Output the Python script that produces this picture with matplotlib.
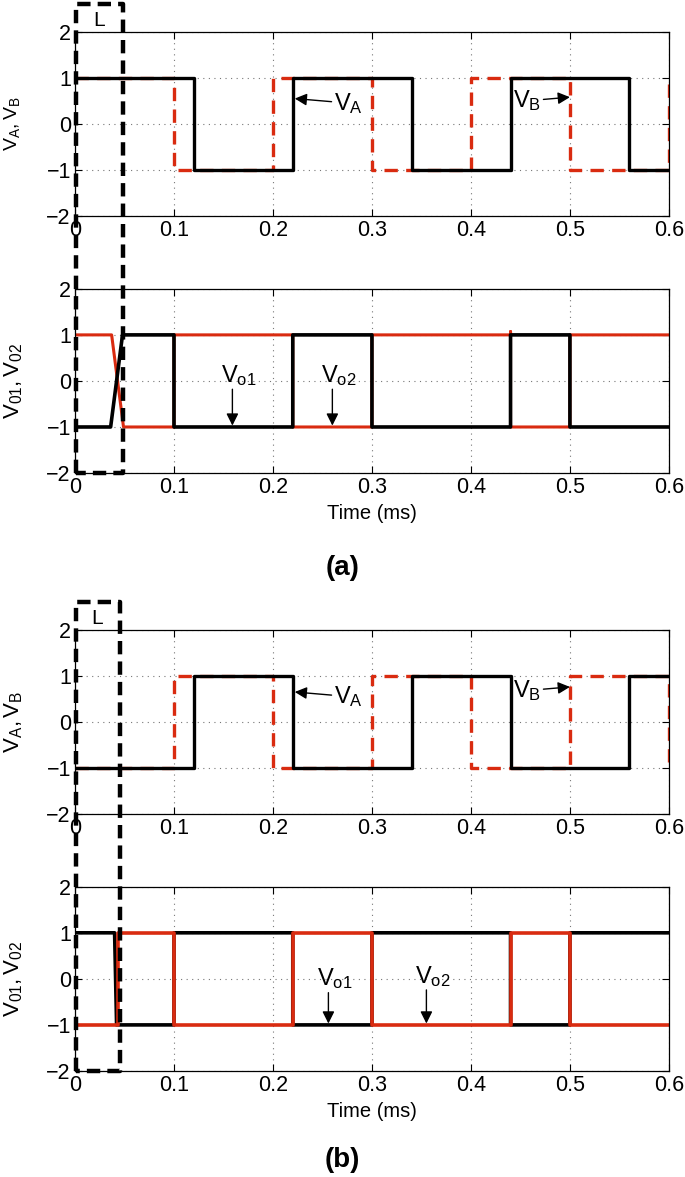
import numpy as np
import matplotlib
matplotlib.use("Agg")
import matplotlib.pyplot as plt
from matplotlib.lines import Line2D
from matplotlib.transforms import blended_transform_factory

plt.rcParams['font.family'] = ['Liberation Sans', 'DejaVu Sans']
plt.rcParams['mathtext.fontset'] = 'custom'
plt.rcParams['mathtext.rm'] = 'Liberation Sans'
plt.rcParams['mathtext.it'] = 'Liberation Sans'

RED = '#d92b10'

# ---- data: (a) ----
va_a_t = [0, 0.12, 0.12, 0.22, 0.22, 0.34, 0.34, 0.44, 0.44, 0.56, 0.56, 0.6]
va_a_v = [1, 1, -1, -1, 1, 1, -1, -1, 1, 1, -1, -1]
vb_a_t = [0, 0.1, 0.1, 0.2, 0.2, 0.3, 0.3, 0.4, 0.4, 0.5, 0.5, 0.6, 0.6]
vb_a_v = [1, 1, -1, -1, 1, 1, -1, -1, 1, 1, -1, -1, 1]
vo1_a_t = [0, 0.036, 0.048, 0.1, 0.1, 0.22, 0.22, 0.3, 0.3, 0.44, 0.44, 0.5, 0.5, 0.6]
vo1_a_v = [-1, -1, 1, 1, -1, -1, 1, 1, -1, -1, 1, 1, -1, -1]
vo2_a_t = [0, 0.037, 0.049, 0.1, 0.1, 0.22, 0.22, 0.3, 0.3, 0.44, 0.44, 0.44, 0.5, 0.5, 0.6]
vo2_a_v = [1, 1, -1, -1, 1, 1, -1, -1, 1, 1, 1.07, -1, -1, 1, 1]

# ---- data: (b) ----
va_b_t = [0, 0.12, 0.12, 0.22, 0.22, 0.34, 0.34, 0.44, 0.44, 0.56, 0.56, 0.6]
va_b_v = [-1, -1, 1, 1, -1, -1, 1, 1, -1, -1, 1, 1]
vb_b_t = [0, 0.1, 0.1, 0.2, 0.2, 0.3, 0.3, 0.4, 0.4, 0.5, 0.5, 0.6, 0.6]
vb_b_v = [-1, -1, 1, 1, -1, -1, 1, 1, -1, -1, 1, 1, -1]
vo1_b_t = [0, 0.04, 0.042, 0.1, 0.1, 0.22, 0.22, 0.3, 0.3, 0.44, 0.44, 0.5, 0.5, 0.6]
vo1_b_v = [1, 1, -1, -1, 1, 1, -1, -1, 1, 1, -1, -1, 1, 1]
vo2_b_t = [0, 0.043, 0.043, 0.1, 0.1, 0.22, 0.22, 0.3, 0.3, 0.44, 0.44, 0.5, 0.5, 0.6]
vo2_b_v = [-1, -1, 1, 1, -1, -1, 1, 1, -1, -1, 1, 1, -1, -1]

xticks = [0, 0.1, 0.2, 0.3, 0.4, 0.5, 0.6]
xticklabels = ['0', '0.1', '0.2', '0.3', '0.4', '0.5', '0.6']
yticks = [-2, -1, 0, 1, 2]

# L window width (ms)
L_a = 0.048
L_b = 0.0455

fig = plt.figure(figsize=(6.85, 11.77), dpi=100)

left, width = 0.1095, 0.867
rows = [0.8165, 0.5981, 0.3084, 0.0901]
h = 0.1565
axs = [fig.add_axes([left, b, width, h]) for b in rows]


def style(ax):
    ax.set_xlim(0, 0.6)
    ax.set_ylim(-2, 2)
    ax.set_xticks(xticks)
    ax.set_xticklabels(xticklabels)
    ax.set_yticks(yticks)
    ax.set_yticklabels(['\u22122', '\u22121', '0', '1', '2'])
    ax.tick_params(direction='in', length=5, width=0.8, top=True, right=True,
                   labelsize=15.5, pad=3)
    ax.grid(True, linestyle=(0, (1, 4)), color='#777777', linewidth=0.8)
    ax.set_axisbelow(True)
    for s in ax.spines.values():
        s.set_linewidth(0.9)


for ax in axs:
    style(ax)

arrow_kw = dict(arrowstyle='-|>', color='black', lw=1, mutation_scale=18, shrinkA=0, shrinkB=0)

# (a) top
ax = axs[0]
ax.plot(vb_a_t, vb_a_v, color=RED, lw=2.4, linestyle=(0, (4, 2.5)))
ax.plot(va_a_t, va_a_v, color='black', lw=2.4)
ax.set_ylabel(r'$\mathregular{V_A,V_B}$', fontsize=14)
ax.yaxis.set_label_coords(-0.09, 0.5)
ax.annotate(r'$\mathregular{V_A}$', xy=(0.222, 0.55), xytext=(0.262, 0.45),
            fontsize=17, va='center', ha='left', arrowprops=arrow_kw)
ax.annotate(r'$\mathregular{V_B}$', xy=(0.5, 0.58), xytext=(0.442, 0.5),
            fontsize=17, va='center', ha='left', arrowprops=arrow_kw)

# (a) bottom
ax = axs[1]
ax.plot(vo2_a_t, vo2_a_v, color=RED, lw=2.2)
ax.plot(vo1_a_t, vo1_a_v, color='black', lw=2.6)
ax.set_ylabel(r'$\mathregular{V_{01},V_{02}}$', fontsize=16)
ax.yaxis.set_label_coords(-0.085, 0.5)
ax.set_xlabel('Time (ms)', fontsize=14.5, labelpad=4)
for x, lab in [(0.159, r'$\mathregular{V_{o1}}$'), (0.26, r'$\mathregular{V_{o2}}$')]:
    ax.annotate('', xy=(x, -0.97), xytext=(x, -0.18), arrowprops=arrow_kw)
    ax.text(x + 0.006, -0.15, lab, fontsize=17, ha='center', va='bottom')

# (b) top
ax = axs[2]
ax.plot(vb_b_t, vb_b_v, color=RED, lw=2.4, linestyle=(0, (4, 2.5)))
ax.plot(va_b_t, va_b_v, color='black', lw=2.4)
ax.set_ylabel(r'$\mathregular{V_A, V_B}$', fontsize=16)
ax.yaxis.set_label_coords(-0.085, 0.5)
ax.annotate(r'$\mathregular{V_A}$', xy=(0.222, 0.65), xytext=(0.262, 0.55),
            fontsize=17, va='center', ha='left', arrowprops=arrow_kw)
ax.annotate(r'$\mathregular{V_B}$', xy=(0.5, 0.76), xytext=(0.442, 0.68),
            fontsize=17, va='center', ha='left', arrowprops=arrow_kw)

# (b) bottom
ax = axs[3]
ax.plot(vo1_b_t, vo1_b_v, color='black', lw=2.6)
ax.plot(vo2_b_t, vo2_b_v, color=RED, lw=2.6)
ax.set_ylabel(r'$\mathregular{V_{01}, V_{02}}$', fontsize=16)
ax.yaxis.set_label_coords(-0.085, 0.5)
ax.set_xlabel('Time (ms)', fontsize=14.5, labelpad=4)
for x, y0, lab in [(0.256, -0.3, r'$\mathregular{V_{o1}}$'), (0.355, -0.24, r'$\mathregular{V_{o2}}$')]:
    ax.annotate('', xy=(x, -0.97), xytext=(x, y0), arrowprops=arrow_kw)
    ax.text(x + 0.006, y0 + 0.03, lab, fontsize=17, ha='center', va='bottom')

# dashed "L" windows spanning both axes of each case
for top_ax, bot_ax, L, ytop in [(axs[0], axs[1], L_a, 1 - 4 / 1177), (axs[2], axs[3], L_b, 1 - 602 / 1177)]:
    tr = blended_transform_factory(top_ax.transData, fig.transFigure)
    ybot = bot_ax.get_position().y0
    xs = [0.0015, 0.0015, L, L, 0.0015]
    ys = [ybot, ytop, ytop, ybot, ybot]
    fig.add_artist(Line2D(xs, ys, transform=tr, color='black', lw=3.2,
                          linestyle=(0, (3, 1.6)), zorder=10))
    fig.text(L / 2, ytop - 0.014, 'L', transform=tr, fontsize=15, ha='center', va='center')

fig.text(0.5, 1 - 568 / 1177, '(a)', fontsize=20, fontweight='bold', ha='center', va='center')
fig.text(0.5, 1 - 1160 / 1177, '(b)', fontsize=20, fontweight='bold', ha='center', va='center')

fig.savefig('out.png', dpi=100)
